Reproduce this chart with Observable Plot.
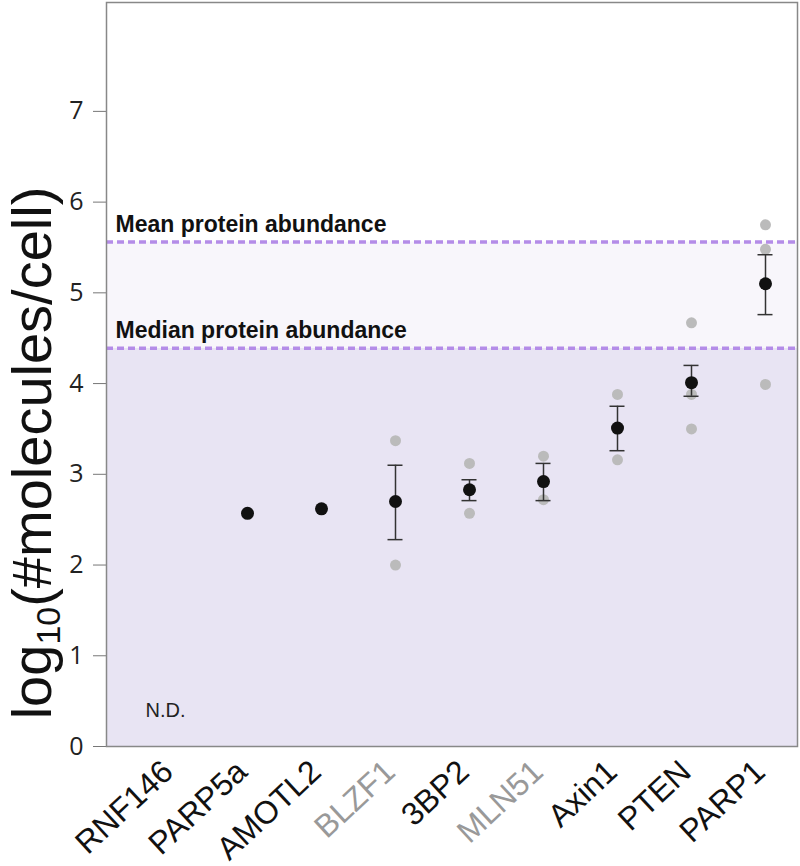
<!DOCTYPE html>
<html>
<head>
<meta charset="utf-8">
<script src="https://cdn.jsdelivr.net/npm/d3@7"></script>
<script src="https://cdn.jsdelivr.net/npm/@observablehq/plot@0.6"></script>
<style>
  html, body { margin: 0; padding: 0; background: white; }
  svg { display: block; }
</style>
</head>
<body>
<div id="chart"></div>
<script>
// ---- data ----
const genes = ["RNF146", "PARP5a", "AMOTL2", "BLZF1", "3BP2", "MLN51", "Axin1", "PTEN", "PARP1"];
const grayLabels = ["BLZF1", "MLN51"];
const meanVals = [null, 2.57, 2.62, 2.70, 2.83, 2.92, 3.51, 4.01, 5.10];
const errLow   = [null, null, null, 2.28, 2.71, 2.71, 3.26, 3.86, 4.76];
const errHigh  = [null, null, null, 3.10, 2.94, 3.12, 3.75, 4.20, 5.42];
const repGenes  = ["BLZF1", "BLZF1", "3BP2", "3BP2", "MLN51", "MLN51", "Axin1", "Axin1", "PTEN", "PTEN", "PTEN", "PARP1", "PARP1", "PARP1"];
const repValues = [3.37, 2.00, 3.12, 2.57, 3.20, 2.72, 3.88, 3.16, 4.67, 3.88, 3.50, 5.75, 5.48, 3.99];
const refNames  = ["Median protein abundance", "Mean protein abundance"];
const refValues = [4.39, 5.56];
const ndLabel = "N.D.";
const ndGene = "RNF146";
const ndValue = 0.4;
const yTicks = [0, 1, 2, 3, 4, 5, 6, 7];

// ---- derived tables ----
const mainData = genes.map((g, i) => ({gene: g, mean: meanVals[i], lo: errLow[i], hi: errHigh[i]}))
  .filter(d => d.mean != null);
const errData = mainData.filter(d => d.lo != null);
const reps = repGenes.map((g, i) => ({gene: g, value: repValues[i]}));
const refs = refNames.map((n, i) => ({label: n, value: refValues[i]}));
const bands = [
  {lo: 0, hi: refValues[0], fill: "#e8e4f3"},
  {lo: refValues[0], hi: refValues[1], fill: "#f8f6fb"}
];

const plot = Plot.plot({
  width: 800,
  height: 866,
  marginLeft: 106,
  marginRight: 3,
  marginTop: 2,
  marginBottom: 120,
  style: {fontFamily: "'Liberation Sans', Arial, sans-serif", background: "white", color: "#111"},
  x: {type: "point", domain: genes, range: [172, 766], padding: 0, axis: null},
  y: {domain: [0, 8.2], axis: null},
  marks: [
    Plot.rect(bands, {y1: "lo", y2: "hi", fill: "fill"}),
    Plot.ruleY(refs, {y: "value", stroke: "#b48ce8", strokeWidth: 3.5, strokeDasharray: "7,4"}),
    Plot.text(refs, {y: "value", text: "label", frameAnchor: "left", dx: 9, dy: -10,
      textAnchor: "start", lineAnchor: "bottom", fontWeight: "bold", fontSize: 23, fill: "#111"}),
    Plot.text([ndLabel], {x: () => ndGene, y: () => ndValue, text: d => d, fontSize: 20, dx: -8, fill: "#222"}),
    Plot.dot(reps, {x: "gene", y: "value", r: 5.5, fill: "#bbbbbb"}),
    Plot.ruleX(errData, {x: "gene", y1: "lo", y2: "hi", stroke: "#333", strokeWidth: 1.5}),
    Plot.ruleY(errData, {x1: "gene", x2: "gene", y: "lo", insetLeft: -7.5, insetRight: -7.5, stroke: "#333", strokeWidth: 1.5}),
    Plot.ruleY(errData, {x1: "gene", x2: "gene", y: "hi", insetLeft: -7.5, insetRight: -7.5, stroke: "#333", strokeWidth: 1.5}),
    Plot.dot(mainData, {x: "gene", y: "mean", r: 6.5, fill: "#111"}),
    Plot.axisY({ticks: yTicks, tickSize: 13, tickPadding: 10, fontSize: 25,
      fontFamily: "'Open Sans', sans-serif", stroke: "#777", fill: "#222", label: null}),
    Plot.text(genes, {x: d => d, text: d => d, frameAnchor: "bottom", textAnchor: "end", lineAnchor: "top",
      rotate: -43, dx: -14, dy: 11, fontSize: 32,
      fill: d => grayLabels.includes(d) ? "#999999" : "#111111"}),
    Plot.frame({stroke: "#888", strokeWidth: 1.5})
  ]
});

// y-axis title with subscript
const svg = d3.select(plot);
const t = svg.append("text")
  .attr("transform", "translate(51,453) rotate(-90)")
  .attr("text-anchor", "middle")
  .attr("font-size", 56)
  .attr("font-family", "'Liberation Sans', Arial, sans-serif")
  .attr("fill", "#111");
t.append("tspan").text("log");
t.append("tspan").attr("font-size", 34).attr("dy", 9).text("10");
t.append("tspan").attr("dy", -9).text("(#molecules/cell)");

document.getElementById("chart").appendChild(plot);
</script>
</body>
</html>
